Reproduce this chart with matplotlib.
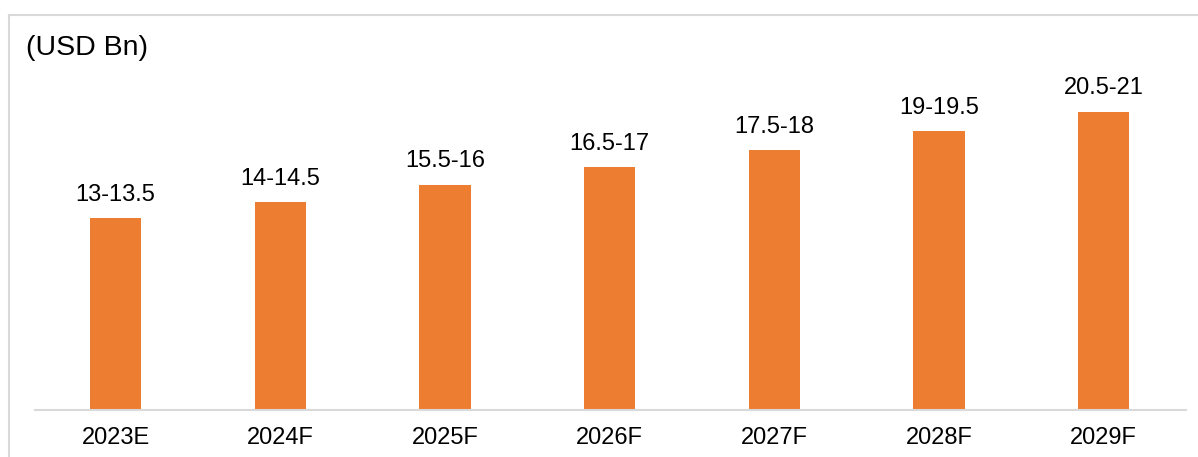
import matplotlib
matplotlib.use("Agg")
import matplotlib.pyplot as plt
from matplotlib.lines import Line2D

plt.rcParams['font.family'] = ['Liberation Sans', 'DejaVu Sans']

categories = ["2023E", "2024F", "2025F", "2026F", "2027F", "2028F", "2029F"]
values = [13.25, 14.35, 15.53, 16.77, 17.94, 19.25, 20.57]
labels = ["13-13.5", "14-14.5", "15.5-16", "16.5-17", "17.5-18", "19-19.5", "20.5-21"]

W, H = 1198, 457
fig = plt.figure(figsize=(W / 100, H / 100), dpi=100)

# outer border (left and top)
fig.add_artist(Line2D([9 / W, 9 / W], [0, 1 - 15 / H], transform=fig.transFigure,
                      color="#d9d9d9", lw=1.5))
fig.add_artist(Line2D([9 / W, 1], [1 - 15 / H, 1 - 15 / H], transform=fig.transFigure,
                      color="#d9d9d9", lw=1.5))

left, right = 35 / W, 1186 / W
bottom, top = (H - 410) / H, (H - 15) / H
ax = fig.add_axes([left, bottom, right - left, top - bottom])

x = list(range(len(categories)))
bars = ax.bar(x, values, width=0.31, color="#ED7D31")
for xi, v, lab in zip(x, values, labels):
    ax.annotate(lab, (xi, v), xytext=(0, 9), textcoords="offset points",
                ha="center", va="bottom", fontsize=17, color="black")

ax.set_xlim(-0.49, 6.5)
ax.set_ylim(0, 395 / 14.49)
ax.set_xticks(x)
ax.set_xticklabels(categories, fontsize=17)
ax.tick_params(axis="x", length=0, pad=12)
ax.set_yticks([])
for s in ["top", "right", "left"]:
    ax.spines[s].set_visible(False)
ax.spines["bottom"].set_color("#d9d9d9")
ax.spines["bottom"].set_linewidth(1.5)

fig.text(26 / W, 1 - 48 / H, "(USD Bn)", fontsize=20.5, ha="left", va="center")

fig.savefig("out.png", dpi=100)
